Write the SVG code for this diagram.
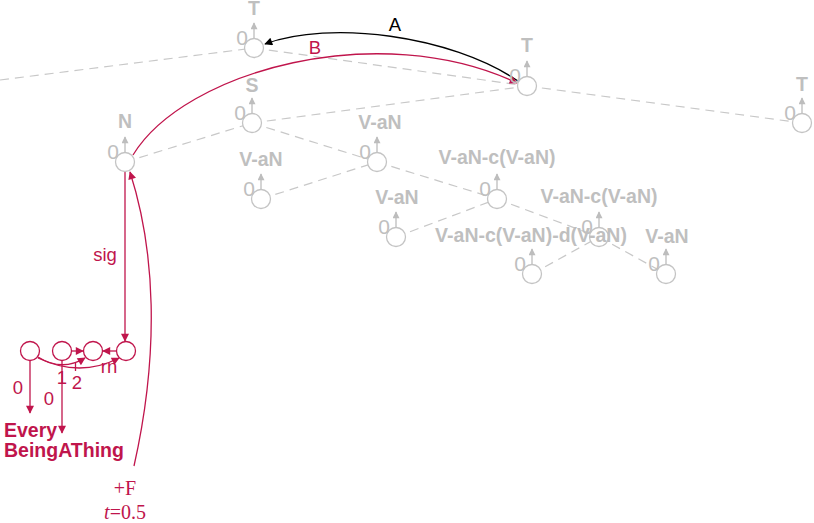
<svg xmlns="http://www.w3.org/2000/svg" width="814" height="523" viewBox="0 0 814 523">
<defs>
<style>
.bg{fill:#fff}
.dash{stroke:#c8c8c8;stroke-width:1.2;stroke-dasharray:9 6;fill:none}
.nc{fill:#fff;stroke:#c4c4c4;stroke-width:1.3}
.up{stroke:#bdbdbd;stroke-width:1.3;fill:none;marker-end:url(#mg)}
.lbl{font-family:"Liberation Sans",Arial,sans-serif;font-weight:bold;font-size:19.5px;fill:#bfbfbf;text-anchor:middle}
.zero{font-family:"Liberation Sans",Arial,sans-serif;font-size:21px;fill:#bfbfbf;text-anchor:middle}
.cr{stroke:#c0154c;stroke-width:1.3;fill:none}
.crc{fill:#fff;stroke:#c0154c;stroke-width:1.3}
.crt{font-family:"Liberation Sans",Arial,sans-serif;font-size:18.5px;fill:#c0154c;text-anchor:middle}
.crb{font-family:"Liberation Sans",Arial,sans-serif;font-size:19.5px;font-weight:bold;fill:#c0154c}
.ser{font-family:"Liberation Serif","Times New Roman",serif;font-size:20px;fill:#c0154c;text-anchor:middle}
</style>
<marker id="mg" viewBox="0 0 10 10" refX="9" refY="5" markerWidth="8" markerHeight="7" markerUnits="userSpaceOnUse" orient="auto"><path d="M0,0 L10,5 L0,10 z" fill="#bdbdbd"/></marker>
<marker id="mc" viewBox="0 0 10 10" refX="9" refY="5" markerWidth="11" markerHeight="8" markerUnits="userSpaceOnUse" orient="auto"><path d="M0,0 L10,5 L0,10 z" fill="#c0154c"/></marker>
<marker id="mb" viewBox="0 0 10 10" refX="9" refY="5" markerWidth="11" markerHeight="8" markerUnits="userSpaceOnUse" orient="auto"><path d="M0,0 L10,5 L0,10 z" fill="#000"/></marker>
</defs>
<rect class="bg" x="0" y="0" width="814" height="523"/>

<g id="connectors">
  <line class="dash" x1="0" y1="80" x2="254" y2="48"/>
  <line class="dash" x1="254" y1="48" x2="527" y2="86"/>
  <line class="dash" x1="252" y1="123" x2="527" y2="86"/>
  <line class="dash" x1="527" y1="86" x2="802" y2="123"/>
  <line class="dash" x1="125" y1="162" x2="252" y2="123"/>
  <line class="dash" x1="252" y1="123" x2="377" y2="162"/>
  <line class="dash" x1="261" y1="199" x2="377" y2="162"/>
  <line class="dash" x1="377" y1="162" x2="497" y2="199"/>
  <line class="dash" x1="396" y1="237" x2="497" y2="199"/>
  <line class="dash" x1="497" y1="199" x2="599" y2="237"/>
  <line class="dash" x1="532" y1="274" x2="599" y2="237"/>
  <line class="dash" x1="599" y1="237" x2="666" y2="274"/>

  <path d="M518,81 C450,35 330,20 265,44" stroke="#000" stroke-width="1.3" fill="none" marker-end="url(#mb)"/>
  <text x="395" y="31" font-family="Liberation Sans,Arial,sans-serif" font-size="18.5" text-anchor="middle" fill="#000">A</text>
  <path class="cr" d="M133,155 C185,70 380,18 517,83" marker-end="url(#mc)"/>
  <text class="crt" x="315" y="54">B</text>
  <line class="cr" x1="125" y1="172" x2="125" y2="341" marker-end="url(#mc)"/>
  <text class="crt" x="105" y="261">sig</text>
  <path class="cr" d="M134,466 C160,350 155,250 130,172" marker-end="url(#mc)"/>
  <text class="ser" x="125" y="495">+F</text>
  <text class="ser" x="125" y="519"><tspan font-style="italic">t</tspan>=0.5</text>

  <line class="cr" x1="71.5" y1="351" x2="83" y2="351" marker-end="url(#mc)"/>
  <line class="cr" x1="116.5" y1="351" x2="103" y2="351" marker-end="url(#mc)"/>
  <path class="cr" d="M38,357 Q62,372 85,358" marker-end="url(#mc)"/>
  <path class="cr" d="M38,358 Q80,378 119,358" marker-end="url(#mc)"/>
  <line class="cr" x1="75.5" y1="362" x2="75.5" y2="371"/>
  <text class="crt" x="109" y="373">rn</text>
  <text class="crt" x="62" y="384" font-size="19.5">1</text>
  <text class="crt" x="77" y="389" font-size="19.5">2</text>
  <line class="cr" x1="30" y1="360.5" x2="30" y2="413" marker-end="url(#mc)"/>
  <line class="cr" x1="62" y1="360.5" x2="62" y2="433" marker-end="url(#mc)"/>
  <text class="crt" x="18" y="394" font-size="19.5">0</text>
  <text class="crt" x="49" y="405" font-size="19.5">0</text>
</g>

<g id="node-T1"><circle class="nc" cx="254" cy="48" r="9.5"/><line class="up" x1="254" y1="38.5" x2="254" y2="23"/><text class="zero" x="242" y="45">0</text><text class="lbl" x="254" y="15">T</text></g>
<g id="node-T2"><circle class="nc" cx="527" cy="86" r="9.5"/><line class="up" x1="527" y1="76.5" x2="527" y2="61"/><text class="zero" x="515" y="83">0</text><text class="lbl" x="527" y="52">T</text></g>
<g id="node-T3"><circle class="nc" cx="802" cy="123" r="9.5"/><line class="up" x1="802" y1="113.5" x2="802" y2="98"/><text class="zero" x="790" y="120">0</text><text class="lbl" x="802" y="91">T</text></g>
<g id="node-S"><circle class="nc" cx="252" cy="123" r="9.5"/><line class="up" x1="252" y1="113.5" x2="252" y2="98"/><text class="zero" x="240" y="120">0</text><text class="lbl" x="252" y="92">S</text></g>
<g id="node-N"><circle class="nc" cx="125" cy="162" r="9.5"/><line class="up" x1="125" y1="152.5" x2="125" y2="137"/><text class="zero" x="113" y="159">0</text><text class="lbl" x="125" y="128">N</text></g>
<g id="node-VaN1"><circle class="nc" cx="377" cy="162" r="9.5"/><line class="up" x1="377" y1="152.5" x2="377" y2="137"/><text class="zero" x="365" y="159">0</text><text class="lbl" x="380" y="129">V-aN</text></g>
<g id="node-VaN2"><circle class="nc" cx="261" cy="199" r="9.5"/><line class="up" x1="261" y1="189.5" x2="261" y2="174"/><text class="zero" x="249" y="196">0</text><text class="lbl" x="261" y="166">V-aN</text></g>
<g id="node-VaNc1"><circle class="nc" cx="497" cy="199" r="9.5"/><line class="up" x1="497" y1="189.5" x2="497" y2="174"/><text class="zero" x="485" y="196">0</text><text class="lbl" x="497" y="164">V-aN-c(V-aN)</text></g>
<g id="node-VaN3"><circle class="nc" cx="396" cy="237" r="9.5"/><line class="up" x1="396" y1="227.5" x2="396" y2="212"/><text class="zero" x="384" y="234">0</text><text class="lbl" x="397" y="204">V-aN</text></g>
<g id="node-VaNc2"><circle class="nc" cx="599" cy="237" r="9.5"/><line class="up" x1="599" y1="227.5" x2="599" y2="212"/><text class="zero" x="587" y="234">0</text><text class="lbl" x="599" y="203">V-aN-c(V-aN)</text></g>
<g id="node-VaNcd"><circle class="nc" cx="532" cy="274" r="9.5"/><line class="up" x1="532" y1="264.5" x2="532" y2="249"/><text class="zero" x="520" y="271">0</text></g>
<g id="node-VaN4"><circle class="nc" cx="666" cy="274" r="9.5"/><line class="up" x1="666" y1="264.5" x2="666" y2="249"/><text class="zero" x="654" y="271">0</text><text class="lbl" x="667" y="243">V-aN</text></g>
<text class="lbl" x="531" y="242">V-aN-c(V-aN)-d(V-aN)</text>

<g id="node-b1"><circle class="crc" cx="30" cy="351" r="9.5"/></g>
<g id="node-b2"><circle class="crc" cx="62" cy="351" r="9.5"/></g>
<g id="node-b3"><circle class="crc" cx="93" cy="351" r="9.5"/></g>
<g id="node-b4"><circle class="crc" cx="126" cy="351" r="9.5"/></g>
<g id="node-every"><text class="crb" x="4" y="437">Every</text><text class="crb" x="4" y="457">BeingAThing</text></g>
</svg>
